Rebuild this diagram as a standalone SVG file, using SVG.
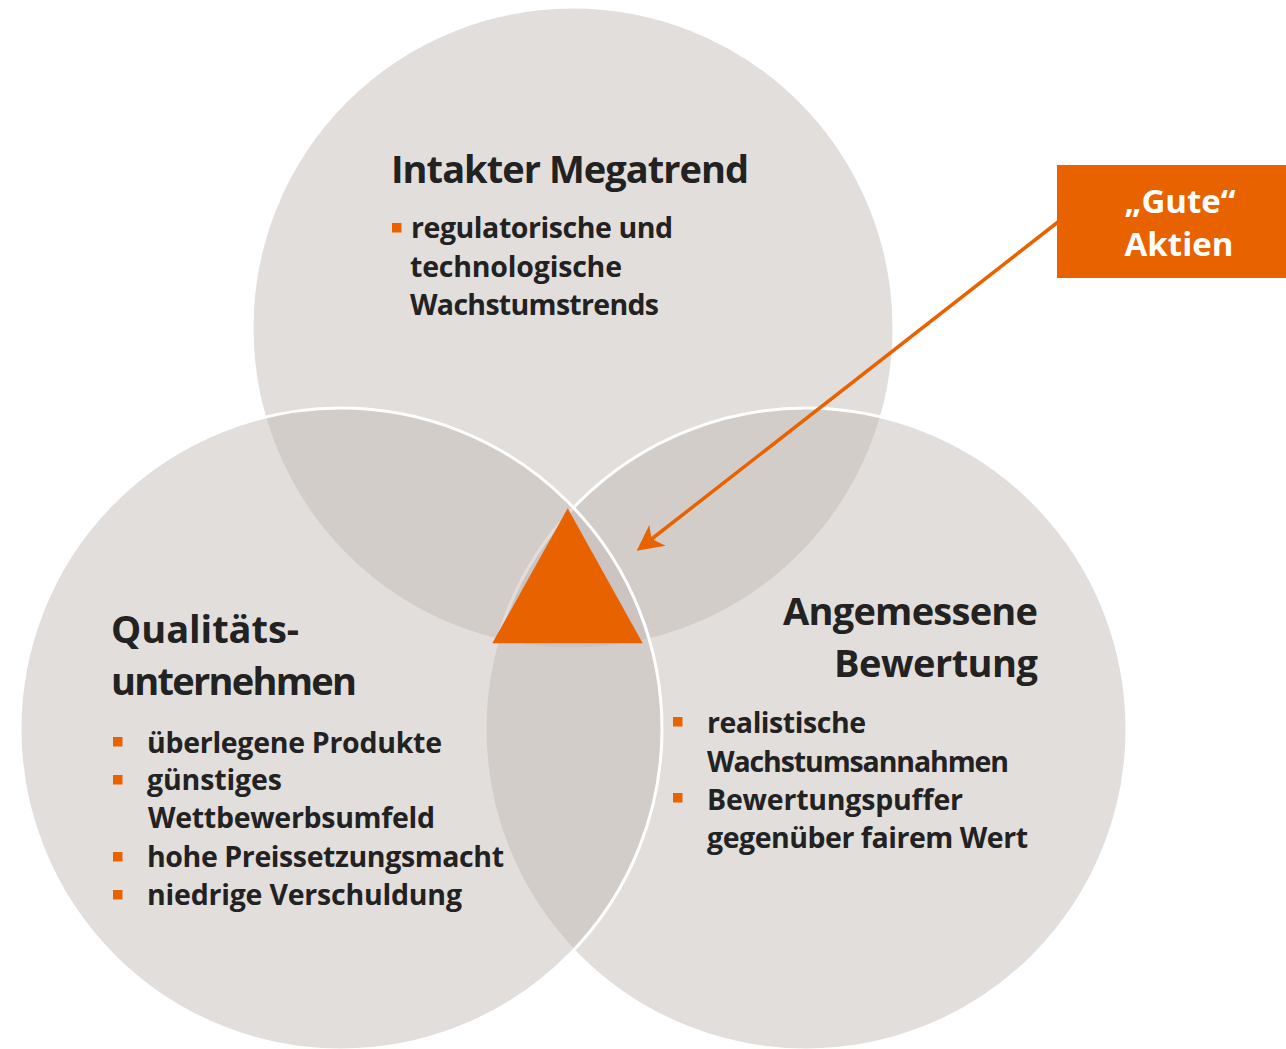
<svg xmlns="http://www.w3.org/2000/svg" width="1286" height="1049" viewBox="0 0 1286 1049">
<style>
.c{fill:#c3bbb7;fill-opacity:0.49;stroke:#ffffff;stroke-width:3}
.h{font-family:"Open Sans","Liberation Sans",sans-serif;font-weight:700;font-size:38px;fill:#222222}
.t{font-family:"Open Sans","Liberation Sans",sans-serif;font-weight:700;font-size:28.5px;fill:#222222}
.b{fill:#e96200}
.w{font-family:"Open Sans","Liberation Sans",sans-serif;font-weight:700;font-size:33px;fill:#ffffff;text-anchor:middle}
</style>
<rect width="1286" height="1049" fill="#ffffff"/>
<g id="circle-top"><circle class="c" cx="573" cy="328" r="321"/></g>
<g id="circle-right"><circle class="c" cx="806" cy="729" r="321"/></g>
<g id="circle-left"><circle class="c" cx="341" cy="729" r="321"/></g>
<g id="center-triangle"><polygon class="b" points="567.7,508.3 492.3,643.3 642.7,643.3"/></g>
<g id="node-megatrend">
<text class="h" x="391" y="183" textLength="358">Intakter Megatrend</text>
<rect class="b" x="392" y="223" width="9.5" height="9.5"/>
<text class="t" x="411" y="238" textLength="262">regulatorische und</text>
<text class="t" x="410" y="277" textLength="212">technologische</text>
<text class="t" x="410" y="315" textLength="249">Wachstumstrends</text>
</g>
<g id="node-qualitaet">
<text class="h" x="111" y="643" textLength="188">Qualitäts-</text>
<text class="h" x="111" y="695" textLength="246">unternehmen</text>
<rect class="b" x="113" y="737" width="9.5" height="9.5"/>
<text class="t" x="147" y="753" textLength="295">überlegene Produkte</text>
<rect class="b" x="113" y="775" width="9.5" height="9.5"/>
<text class="t" x="147" y="790" textLength="135">günstiges</text>
<text class="t" x="148" y="828" textLength="287">Wettbewerbsumfeld</text>
<rect class="b" x="113" y="852" width="9.5" height="9.5"/>
<text class="t" x="147" y="867" textLength="357">hohe Preissetzungsmacht</text>
<rect class="b" x="113" y="890" width="9.5" height="9.5"/>
<text class="t" x="147" y="905" textLength="315">niedrige Verschuldung</text>
</g>
<g id="node-bewertung">
<text class="h" x="1038" y="625" text-anchor="end" textLength="255">Angemessene</text>
<text class="h" x="1038" y="677" text-anchor="end" textLength="204">Bewertung</text>
<rect class="b" x="673" y="717" width="9.5" height="9.5"/>
<text class="t" x="707" y="733" textLength="159">realistische</text>
<text class="t" x="707" y="772" textLength="302">Wachstumsannahmen</text>
<rect class="b" x="673" y="793" width="9.5" height="9.5"/>
<text class="t" x="707" y="810" textLength="256">Bewertungspuffer</text>
<text class="t" x="707" y="848" textLength="321">gegenüber fairem Wert</text>
</g>
<g id="node-gute-aktien">
<rect class="b" x="1057" y="165" width="229" height="113"/>
<text class="w" x="1180" y="213">„Gute“</text>
<text class="w" x="1179" y="256">Aktien</text>
</g>
<g id="connectors">
<line x1="1058" y1="222" x2="651" y2="539.5" stroke="#e96200" stroke-width="3.5"/>
<polygon class="b" points="636.7,550.7 649.3,525 651.5,539 665.7,545.7"/>
</g>
</svg>
